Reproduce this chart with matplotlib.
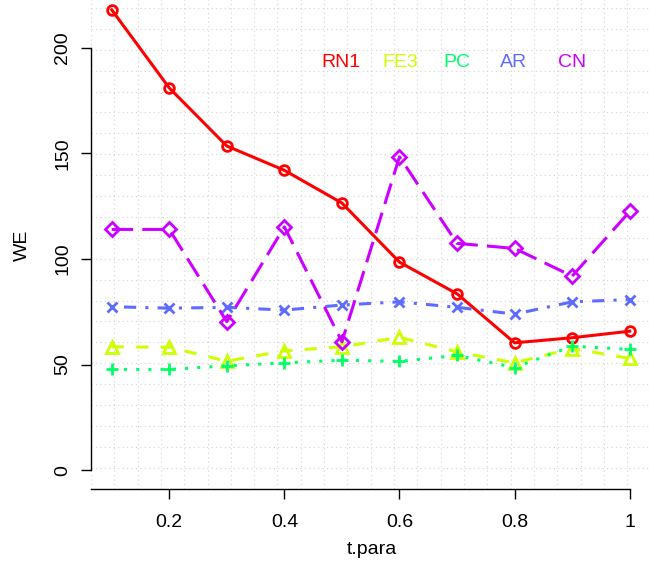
import numpy as np
import matplotlib
matplotlib.use("Agg")
import matplotlib.pyplot as plt

plt.rcParams['font.family'] = ['Liberation Sans', 'DejaVu Sans']

# data
t_para = [0.1, 0.2, 0.3, 0.4, 0.5, 0.6, 0.7, 0.8, 0.9, 1.0]
rn1 = [218, 181, 153.5, 142, 126.5, 98.5, 83.5, 60.3, 62.7, 65.8]
fe3 = [58.4, 58.2, 51.6, 56.5, 58.4, 62.9, 56.0, 50.8, 57.6, 52.9]
pc = [47.7, 47.7, 49.4, 50.8, 52.1, 51.5, 54.3, 48.6, 58.7, 57.2]
ar = [77.4, 76.7, 77.1, 75.8, 78.2, 79.7, 77.1, 73.9, 79.7, 80.8]
cn = [114, 114, 70.3, 115.2, 60.8, 148.4, 107.4, 105, 91.9, 122.5]

names = ["RN1", "FE3", "PC", "AR", "CN"]
colors = ["#FF0000", "#CCFF00", "#00FF66", "#5E6BFF", "#CC00FF"]
markers = ["o", "^", "+", "x", "D"]
msizes = [7, 8, 9, 7, 7]
dashes = [None, (4, 4), (1, 3), (1, 3, 4, 3), (7, 3)]

fig = plt.figure(figsize=(6.59, 5.69), dpi=100)
ax = fig.add_axes([0.1381, 0.1411, 0.8489, 0.8817])

xlim = (0.064, 1.036)
ylim = (-8.8, 228.8)
ax.set_xlim(*xlim)
ax.set_ylim(*ylim)

# R style grid(24, 24)
for gx in np.linspace(xlim[0], xlim[1], 25):
    ax.axvline(gx, color="#D3D3D3", lw=0.8, ls=(0, (1, 3)), zorder=0)
for gy in np.linspace(ylim[0], ylim[1], 25):
    ax.axhline(gy, color="#D3D3D3", lw=0.8, ls=(0, (1, 3)), zorder=0)

series = [rn1, fe3, pc, ar, cn]
for i, ys in enumerate(series):
    line, = ax.plot(t_para, ys, color=colors[i], lw=2.2, marker=markers[i],
                    ms=msizes[i], mfc="none", mew=2, mec=colors[i], zorder=3 + i)
    if dashes[i] is not None:
        line.set_dashes(dashes[i])

for s in ["top", "right"]:
    ax.spines[s].set_visible(False)
ax.spines["left"].set_bounds(0, 200)
ax.spines["bottom"].set_bounds(xlim[0], 1.0)
ax.spines["left"].set_linewidth(1)
ax.spines["bottom"].set_linewidth(1)

ax.set_yticks([0, 50, 100, 150, 200])
ax.set_yticklabels(["0", "50", "100", "150", "200"], rotation=90, va="center")
ax.set_xticks([0.2, 0.4, 0.6, 0.8, 1.0])
ax.set_xticklabels(["0.2", "0.4", "0.6", "0.8", "1"])
ax.tick_params(axis="both", length=7.2, width=1, labelsize=14)
ax.tick_params(axis="y", pad=7)
ax.tick_params(axis="x", pad=11)

fig.text(22 / 659, 1 - 245 / 569, "WE", rotation=90, ha="center", va="center", fontsize=14)
fig.text(372 / 659, 1 - 550 / 569, "t.para", ha="center", va="center", fontsize=14)

# legend drawn as coloured text
leg_x = [341, 400, 457, 514, 572]
for name, col, lx in zip(names, colors, leg_x):
    fig.text(lx / 659, 1 - 62.7 / 569, name, color=col, ha="center", va="center", fontsize=14)

fig.savefig("out.png", dpi=100)
